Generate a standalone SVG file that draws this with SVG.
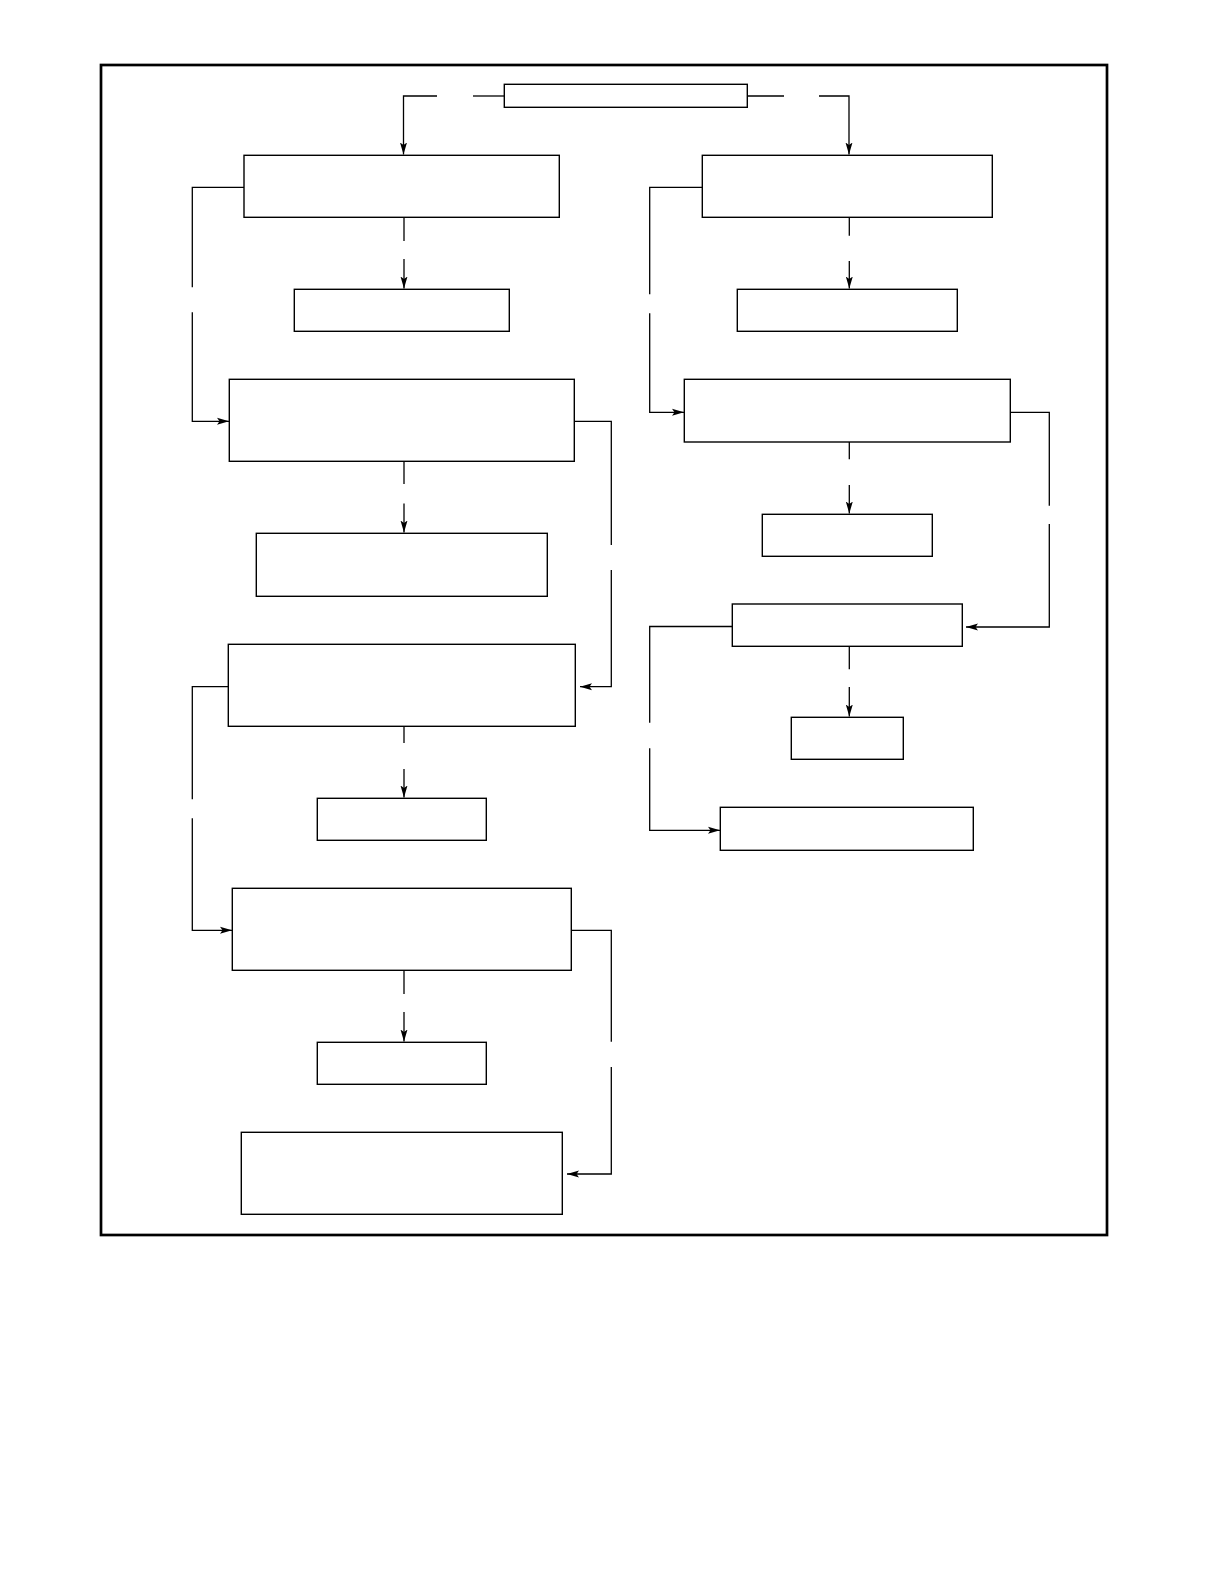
<svg xmlns="http://www.w3.org/2000/svg" width="1224" height="1584" viewBox="0 0 1224 1584">
<style>
.frame{fill:none;stroke:#000;stroke-width:2.7}
.box{fill:#fff;stroke:#000;stroke-width:1.4}
.c{fill:none;stroke:#000;stroke-width:1.3}
.a{marker-end:url(#arr)}
</style>
<defs>
<marker id="arr" viewBox="0 0 12 8" refX="12" refY="4" markerWidth="12" markerHeight="8" markerUnits="userSpaceOnUse" orient="auto">
<path d="M0,0.5 L12,4 L0,7.5 L2.5,4 z" fill="#000"/>
</marker>
</defs>
<rect width="1224" height="1584" fill="#fff"/>
<rect class="frame" x="101" y="65" width="1006" height="1170"/>
<g id="connectors">
<path class="c" d="M504,96 H473"/>
<path class="c a" d="M437,96 H403.5 V154.5"/>
<path class="c" d="M747,96 H784"/>
<path class="c a" d="M819,96 H849 V154.5"/>
<path class="c" d="M404,217 V241"/>
<path class="c a" d="M404,259 V288.5"/>
<path class="c" d="M244,187.3 H192.3 V287.3"/>
<path class="c a" d="M192.3,312.3 V421.3 H229"/>
<path class="c" d="M404,461 V484"/>
<path class="c a" d="M404,503.5 V532.5"/>
<path class="c" d="M574.3,421.3 H611.3 V545"/>
<path class="c a" d="M611.3,570 V686.7 H580"/>
<path class="c" d="M228.3,686.7 H192.3 V799.3"/>
<path class="c a" d="M192.3,818.3 V930.3 H232"/>
<path class="c" d="M404,726 V743"/>
<path class="c a" d="M404,769 V797.5"/>
<path class="c" d="M404,970 V994"/>
<path class="c a" d="M404,1012 V1041.5"/>
<path class="c" d="M571.3,930.3 H611.3 V1041.7"/>
<path class="c a" d="M611.3,1067 V1174 H567"/>
<path class="c" d="M702.3,187.3 H649.7 V294.3"/>
<path class="c a" d="M649.7,313.3 V412.3 H684"/>
<path class="c" d="M849.3,217 V235.7"/>
<path class="c a" d="M849.3,261 V288.5"/>
<path class="c" d="M849.3,442 V459.3"/>
<path class="c a" d="M849.3,485 V513.5"/>
<path class="c" d="M1010.3,412.3 H1049.3 V505.7"/>
<path class="c a" d="M1049.3,524 V627 H966"/>
<path class="c" d="M849.3,646 V669.3"/>
<path class="c a" d="M849.3,687 V716.5"/>
<path class="c" d="M732.3,626.5 H649.7 V722.7"/>
<path class="c a" d="M649.7,748.3 V830.3 H720"/>
</g>
<g id="n-top"><rect class="box" x="504.3" y="84.3" width="243" height="23"/></g>
<g id="n-a"><rect class="box" x="244" y="155.3" width="315.3" height="62"/></g>
<g id="n-a2"><rect class="box" x="294.3" y="289.3" width="215" height="42"/></g>
<g id="n-c"><rect class="box" x="229.3" y="379.3" width="345" height="82"/></g>
<g id="n-d"><rect class="box" x="256.3" y="533.3" width="291" height="63"/></g>
<g id="n-e"><rect class="box" x="228.3" y="644.3" width="347" height="82"/></g>
<g id="n-f"><rect class="box" x="317.3" y="798.3" width="169" height="42"/></g>
<g id="n-g"><rect class="box" x="232.3" y="888.3" width="339" height="82"/></g>
<g id="n-h"><rect class="box" x="317.3" y="1042.3" width="169" height="42"/></g>
<g id="n-i"><rect class="box" x="241.3" y="1132.3" width="321" height="82"/></g>
<g id="n-b"><rect class="box" x="702.3" y="155.3" width="290" height="62"/></g>
<g id="n-b2"><rect class="box" x="737.3" y="289.3" width="220" height="42"/></g>
<g id="n-j"><rect class="box" x="684.3" y="379.3" width="326" height="62.7"/></g>
<g id="n-k"><rect class="box" x="762.3" y="514.3" width="170" height="42"/></g>
<g id="n-l"><rect class="box" x="732.3" y="604" width="230" height="42.3"/></g>
<g id="n-m"><rect class="box" x="791.3" y="717.3" width="112" height="42"/></g>
<g id="n-n"><rect class="box" x="720.3" y="807.3" width="253" height="43"/></g>
</svg>
